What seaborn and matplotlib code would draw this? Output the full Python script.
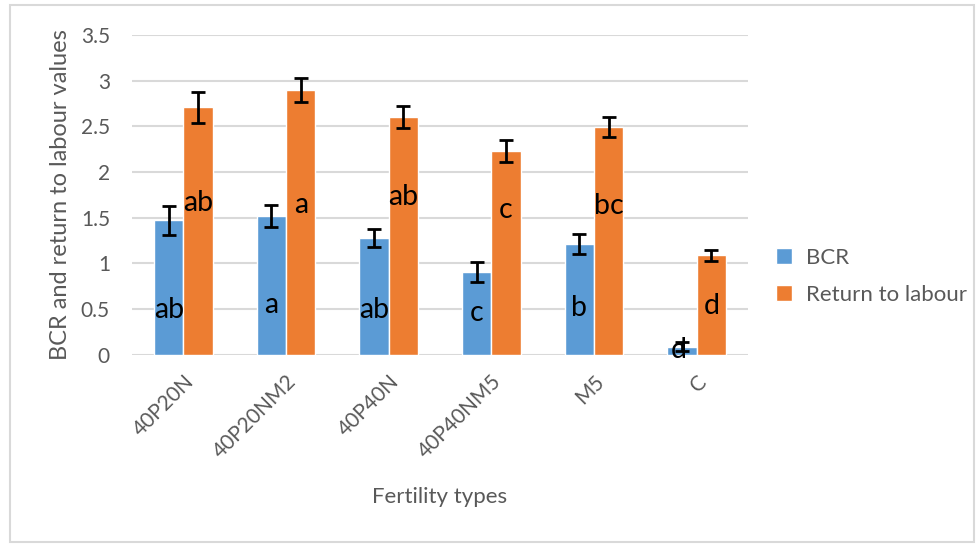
import matplotlib
matplotlib.use("Agg")
import matplotlib.pyplot as plt
import seaborn as sns
import pandas as pd
from matplotlib.patches import Rectangle

categories = ["40P20N", "40P20NM2", "40P40N", "40P40NM5", "M5", "C"]
series_names = ["BCR", "Return to labour"]
bcr = [1.47, 1.52, 1.28, 0.91, 1.21, 0.09]
bcr_err = [0.16, 0.12, 0.10, 0.11, 0.11, 0.05]
rtl = [2.71, 2.90, 2.60, 2.23, 2.49, 1.09]
rtl_err = [0.17, 0.13, 0.12, 0.12, 0.11, 0.06]
bcr_letters = ["ab", "a", "ab", "c", "b", "d"]
rtl_letters = ["ab", "a", "ab", "c", "bc", "d"]
bcr_letter_y = [0.49, 0.55, 0.49, 0.46, 0.51, 0.05]
rtl_letter_y = [1.66, 1.64, 1.73, 1.58, 1.63, 0.53]
yticks = [0, 0.5, 1, 1.5, 2, 2.5, 3, 3.5]
ytick_labels = ["0", "0.5", "1", "1.5", "2", "2.5", "3", "3.5"]

sns.set_theme(style="white")
plt.rcParams["font.family"] = ["Lato", "DejaVu Sans"]

df = pd.DataFrame({
    "cat": categories * 2,
    "series": [series_names[0]] * len(categories) + [series_names[1]] * len(categories),
    "val": bcr + rtl,
})

fig = plt.figure(figsize=(9.79, 5.45), dpi=100)
ax = fig.add_axes([0.135, 0.349, 0.629, 0.587])
palette = {"BCR": "#5B9BD5", "Return to labour": "#ED7D31"}
sns.barplot(data=df, x="cat", y="val", hue="series", order=categories,
            hue_order=series_names, palette=palette, width=0.57,
            saturation=1, errorbar=None, ax=ax, zorder=2)

errs = [bcr_err, rtl_err]
letters = [bcr_letters, rtl_letters]
letter_ys = [bcr_letter_y, rtl_letter_y]
bar_containers = list(ax.containers)
for ci, cont in enumerate(bar_containers):
    xs = [p.get_x() + p.get_width() / 2 for p in cont.patches]
    hs = [p.get_height() for p in cont.patches]
    ax.errorbar(xs, hs, yerr=errs[ci], fmt="none", ecolor="black",
                elinewidth=2, capsize=5, capthick=2, zorder=3)
    for i, (x, lab) in enumerate(zip(xs, letters[ci])):
        dx = -0.03 if (ci == 0 and i == 5) else 0
        ax.text(x + dx, letter_ys[ci][i], lab, ha="center", va="center",
                fontsize=20.5, color="black", zorder=4)

ax.set_ylim(0, 3.5)
ax.set_xlim(-0.5, len(categories) - 0.5)
ax.set_yticks(yticks)
ax.set_yticklabels(ytick_labels)
ax.yaxis.grid(True, color="#D9D9D9", linewidth=1.5, zorder=0)
ax.set_axisbelow(True)
for s in ax.spines.values():
    s.set_visible(False)
ax.tick_params(axis="y", length=0, labelsize=15, labelcolor="#595959", pad=16)
ax.tick_params(axis="x", length=0, labelsize=15, labelcolor="#595959", pad=12)
plt.setp(ax.get_xticklabels(), rotation=45, ha="right", rotation_mode="anchor")
ax.set_xlabel("Fertility types", fontsize=16, color="#595959", labelpad=18)
ax.set_ylabel("BCR and return to labour values", fontsize=17, color="#595959", labelpad=7)

leg = ax.legend(loc="center left", bbox_to_anchor=(1.02, 0.245), frameon=False,
                fontsize=16, handlelength=0.75, handleheight=0.75, labelspacing=0.75,
                handletextpad=0.6, borderaxespad=0.3)
for t in leg.get_texts():
    t.set_color("#595959")

fig.patches.append(Rectangle((0.01, 0.005), 0.985, 0.985, transform=fig.transFigure,
                             fill=False, edgecolor="#D9D9D9", linewidth=1.5))

fig.savefig("out.png", dpi=100)
